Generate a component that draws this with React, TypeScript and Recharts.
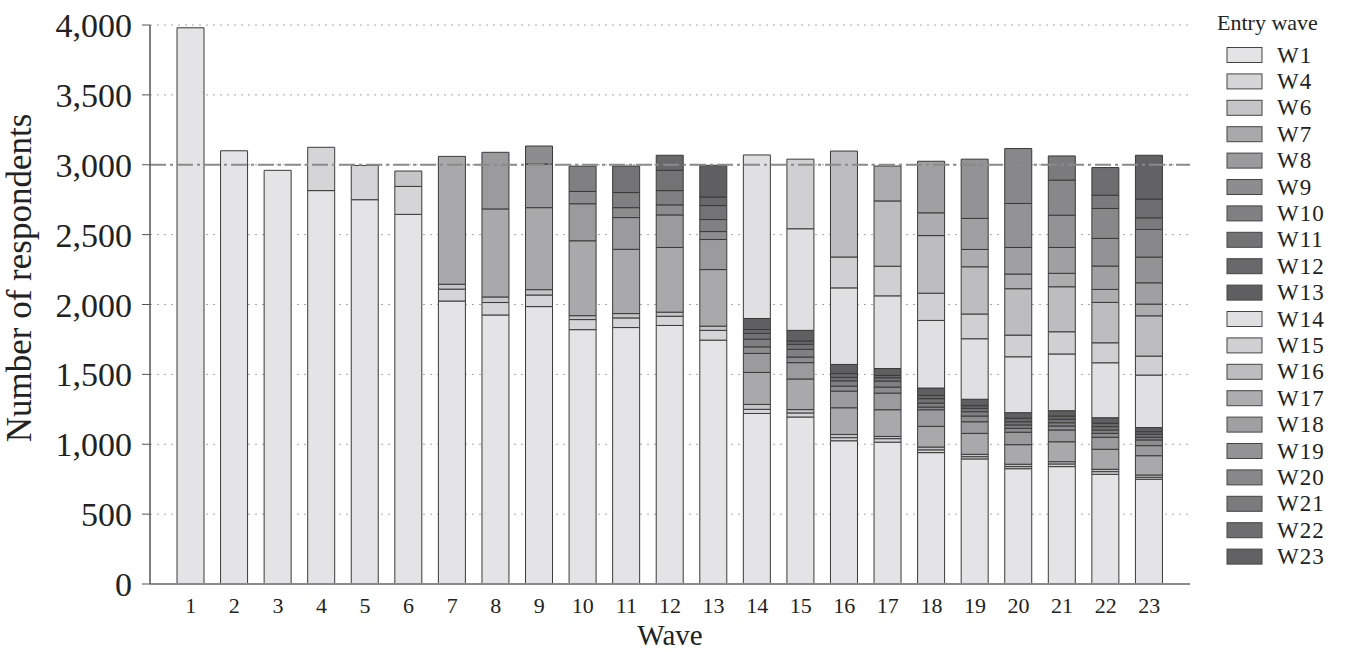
import React from 'react';
import { BarChart, Bar, XAxis, YAxis, CartesianGrid, ReferenceLine } from 'recharts';

const n = null;

// survey waves (x categories)
const waves = ['1', '2', '3', '4', '5', '6', '7', '8', '9', '10', '11', '12', '13', '14', '15', '16', '17', '18', '19', '20', '21', '22', '23'];

// respondents per entry wave cohort, one value per survey wave
const w1 = [3980, 3100, 2960, 2815, 2750, 2645, 2025, 1925, 1985, 1820, 1835, 1850, 1745, 1220, 1195, 1025, 1015, 940, 895, 825, 840, 785, 750];
const w4 = [n, n, n, 310, 245, 200, 85, 89, 83, 72, 69, 66, 70, 30, 29, 22, 25, 20, 16, 15, 19, 19, 14];
const w6 = [n, n, n, n, n, 110, 35, 40, 38, 28, 31, 29, 30, 35, 24, 23, 16, 20, 17, 17, 16, 17, 16];
const w7 = [n, n, n, n, n, n, 915, 630, 587, 536, 460, 463, 405, 229, 219, 191, 191, 148, 150, 140, 143, 143, 138];
const w8 = [n, n, n, n, n, n, n, 405, 312, 265, 227, 233, 215, 136, 117, 119, 119, 119, 83, 89, 84, 86, 72];
const w9 = [n, n, n, n, n, n, n, n, 129, 88, 71, 72, 57, 47, 40, 36, 43, 19, 41, 28, 29, 28, 41];
const w10 = [n, n, n, n, n, n, n, n, n, 181, 108, 102, 86, 55, 55, 38, 43, 28, 31, 24, 23, 24, 19];
const w11 = [n, n, n, n, n, n, n, n, n, n, 190, 145, 100, 41, 36, 24, 24, 32, 24, 23, 25, 24, 21];
const w12 = [n, n, n, n, n, n, n, n, n, n, n, 108, 61, 28, 24, 28, 16, 23, 19, 25, 23, 24, 19];
const w13 = [n, n, n, n, n, n, n, n, n, n, n, n, 227, 79, 76, 65, 50, 53, 46, 40, 38, 40, 29];
const w14 = [n, n, n, n, n, n, n, n, n, n, n, n, n, 1170, 727, 548, 520, 484, 433, 400, 406, 393, 376];
const w15 = [n, n, n, n, n, n, n, n, n, n, n, n, n, n, 498, 221, 212, 195, 177, 155, 159, 143, 136];
const w16 = [n, n, n, n, n, n, n, n, n, n, n, n, n, n, n, 758, 467, 412, 338, 332, 322, 289, 288];
const w17 = [n, n, n, n, n, n, n, n, n, n, n, n, n, n, n, n, 250, 163, 124, 105, 96, 93, 84];
const w18 = [n, n, n, n, n, n, n, n, n, n, n, n, n, n, n, n, n, 369, 222, 190, 185, 167, 152];
const w19 = [n, n, n, n, n, n, n, n, n, n, n, n, n, n, n, n, n, n, 424, 315, 231, 198, 184];
const w20 = [n, n, n, n, n, n, n, n, n, n, n, n, n, n, n, n, n, n, n, 393, 251, 214, 198];
const w21 = [n, n, n, n, n, n, n, n, n, n, n, n, n, n, n, n, n, n, n, n, 173, 95, 83];
const w22 = [n, n, n, n, n, n, n, n, n, n, n, n, n, n, n, n, n, n, n, n, n, 198, 134];
const w23 = [n, n, n, n, n, n, n, n, n, n, n, n, n, n, n, n, n, n, n, n, n, n, 314];

const cohorts = ['W1', 'W4', 'W6', 'W7', 'W8', 'W9', 'W10', 'W11', 'W12', 'W13', 'W14', 'W15', 'W16', 'W17', 'W18', 'W19', 'W20', 'W21', 'W22', 'W23'];
const cohortValues = [w1, w4, w6, w7, w8, w9, w10, w11, w12, w13, w14, w15, w16, w17, w18, w19, w20, w21, w22, w23];
const cohortColors = [
  '#e4e4e6', '#d5d5d7', '#c5c5c7', '#a9a9ab', '#9b9b9d', '#8d8d8f', '#808082', '#737375', '#68686b', '#5f5f62',
  '#e0e0e2', '#d0d0d2', '#bdbdbf', '#adadaf', '#a0a0a2', '#939395', '#88888a', '#7b7b7d', '#6e6e70', '#626265',
];

const yTicks = [0, 500, 1000, 1500, 2000, 2500, 3000, 3500, 4000];

const data = waves.map((wave, i) => {
  const row: Record<string, any> = { wave };
  cohorts.forEach((c, j) => {
    const v = cohortValues[j][i];
    if (v != null) row[c] = v;
  });
  return row;
});

const FONT = '"Liberation Serif", "Times New Roman", serif';

export default function App() {
  return (
    <div style={{ position: 'absolute', left: 0, top: 0, width: 1345, height: 652, background: '#fff', fontFamily: FONT }}>
      <BarChart width={1345} height={652} data={data} margin={{ top: 25, right: 155, bottom: 0, left: 0 }}>
        <CartesianGrid vertical={false} stroke="#a8a8a8" strokeDasharray="2 5" />
        <XAxis
          dataKey="wave"
          height={68}
          padding={{ left: 19, right: 19 }}
          tickLine={false}
          tickMargin={7}
          axisLine={{ stroke: '#8a8a8a', strokeWidth: 2 }}
          tick={{ fill: '#222', fontSize: 22, fontFamily: FONT }}
          interval={0}
        />
        <YAxis
          width={150}
          domain={[0, 4000]}
          ticks={yTicks}
          tickFormatter={(v: number) => v.toLocaleString('en-US')}
          tickSize={8}
          tickMargin={10}
          tickLine={{ stroke: '#555' }}
          axisLine={{ stroke: '#555', strokeWidth: 1.5 }}
          tick={{ fill: '#222', fontSize: 34, fontFamily: FONT }}
        />
        <ReferenceLine y={3000} stroke="#8a8a8a" strokeWidth={1.8} strokeDasharray="16 4 3 4" />
        {cohorts.map((c, j) => (
          <Bar
            key={c}
            dataKey={c}
            stackId="a"
            fill={cohortColors[j]}
            stroke="#3a3a3a"
            strokeWidth={1}
            barSize={27}
            isAnimationActive={false}
          />
        ))}
      </BarChart>
      <svg width={1345} height={652} style={{ position: 'absolute', left: 0, top: 0, pointerEvents: 'none' }}>
        <text x={31} y={278} transform="rotate(-90 31 278)" textAnchor="middle" fontSize={35} fill="#222" fontFamily={FONT}>
          Number of respondents
        </text>
        <text x={670} y={645} textAnchor="middle" fontSize={29} fill="#222" fontFamily={FONT}>
          Wave
        </text>
        <text x={1217} y={30} fontSize={22} fill="#222" fontFamily={FONT}>
          Entry wave
        </text>
        {cohorts.map((c, j) => {
          const cy = 55 + j * 26.4;
          return (
            <g key={c}>
              <rect x={1227} y={cy - 7.5} width={35} height={15} fill={cohortColors[j]} stroke="#444" strokeWidth={1} />
              <text x={1277} y={cy + 7.5} fontSize={23} letterSpacing={1} fill="#222" fontFamily={FONT}>
                {c}
              </text>
            </g>
          );
        })}
      </svg>
    </div>
  );
}
